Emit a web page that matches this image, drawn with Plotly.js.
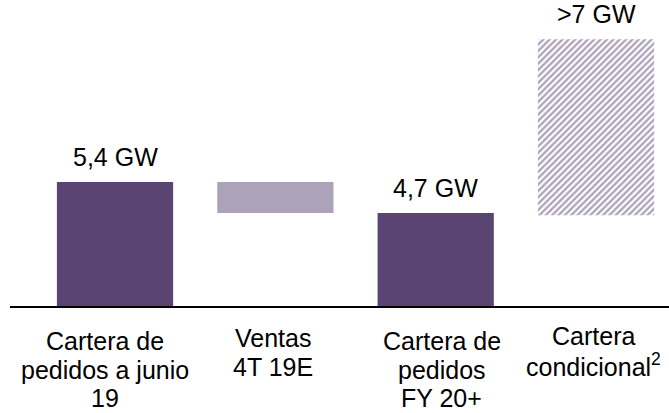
<!DOCTYPE html>
<html>
<head>
<meta charset="utf-8">
<script src="https://cdn.plot.ly/plotly-3.0.1.min.js"></script>
<style>html,body{margin:0;padding:0;background:#fff;}#chart{width:669px;height:413px;}</style>
</head>
<body>
<div id="chart"></div>
<script>
// ---- data ----
var categories = ["Cartera de pedidos a junio 19", "Ventas 4T 19E", "Cartera de pedidos FY 20+", "Cartera condicional²"];
var categoryLines = [
  ["Cartera de", "pedidos a junio", "19"],
  ["Ventas", "4T 19E"],
  ["Cartera de", "pedidos", "FY 20+"],
  ["Cartera", "condicional<sup>2</sup>"]
];
var backlogJune = 5.4;      // GW
var salesQ4 = -0.7;         // GW
var backlogFY20 = 4.7;      // GW
var conditionalBase = 4.65; // GW (drawn start of hatched block)
var conditionalHeight = 3.97; // GW (drawn height of hatched block)
var valueLabels = ["5,4 GW", "", "4,7 GW", ">7 GW"];

// ---- style ----
var dark = "#5a4572", light = "#aca2b9";
var fontFam = "'Liberation Sans', Arial, sans-serif";

var traces = [
  { type: "bar", x: [0, 2], y: [backlogJune, backlogFY20], base: [0, 0],
    marker: { color: dark }, width: 0.725, hoverinfo: "none" },
  { type: "bar", x: [1], y: [-salesQ4], base: [backlogJune + salesQ4],
    marker: { color: light }, width: 0.725, hoverinfo: "none" },
  { type: "bar", x: [3], y: [conditionalHeight], base: [conditionalBase],
    marker: { color: "white", pattern: { shape: "/", fgcolor: light, bgcolor: "white", size: 4.5, solidity: 0.5 } },
    width: 0.725, hoverinfo: "none" }
];

var tops = [backlogJune, backlogJune, backlogFY20, conditionalBase + conditionalHeight];
var annotations = [];
valueLabels.forEach(function (t, i) {
  if (!t) return;
  annotations.push({ x: i, y: tops[i], xref: "x", yref: "y", text: t, showarrow: false,
    yanchor: "bottom", yshift: 9, font: { family: fontFam, size: 25, color: "#000" } });
});
var labelXShift = [-10, -2, 6, -3];
var labelUp = [0, 3, 0, 5];
categoryLines.forEach(function (lines, i) {
  lines.forEach(function (ln, j) {
    annotations.push({ x: i, y: 0, xref: "x", yref: "paper", text: ln, showarrow: false,
      yanchor: "middle", xanchor: "center", xshift: labelXShift[i],
      yshift: -(35 + 28.5 * j) + labelUp[i],
      font: { family: fontFam, size: 25, color: "#000" } });
  });
});

var layout = {
  width: 669, height: 413,
  margin: { l: 10, r: 0, t: 0, b: 107, pad: 0 },
  paper_bgcolor: "white", plot_bgcolor: "white",
  showlegend: false, barmode: "overlay",
  font: { family: fontFam, color: "#000" },
  xaxis: { range: [-0.655, 3.455], showticklabels: false, ticks: "", showgrid: false, zeroline: false,
    showline: true, linecolor: "#000", linewidth: 2, fixedrange: true },
  yaxis: { range: [2.6, 9.507], visible: false, showgrid: false, zeroline: false, fixedrange: true },
  annotations: annotations
};

Plotly.newPlot("chart", traces, layout, { displayModeBar: false, staticPlot: true });
</script>
</body>
</html>
